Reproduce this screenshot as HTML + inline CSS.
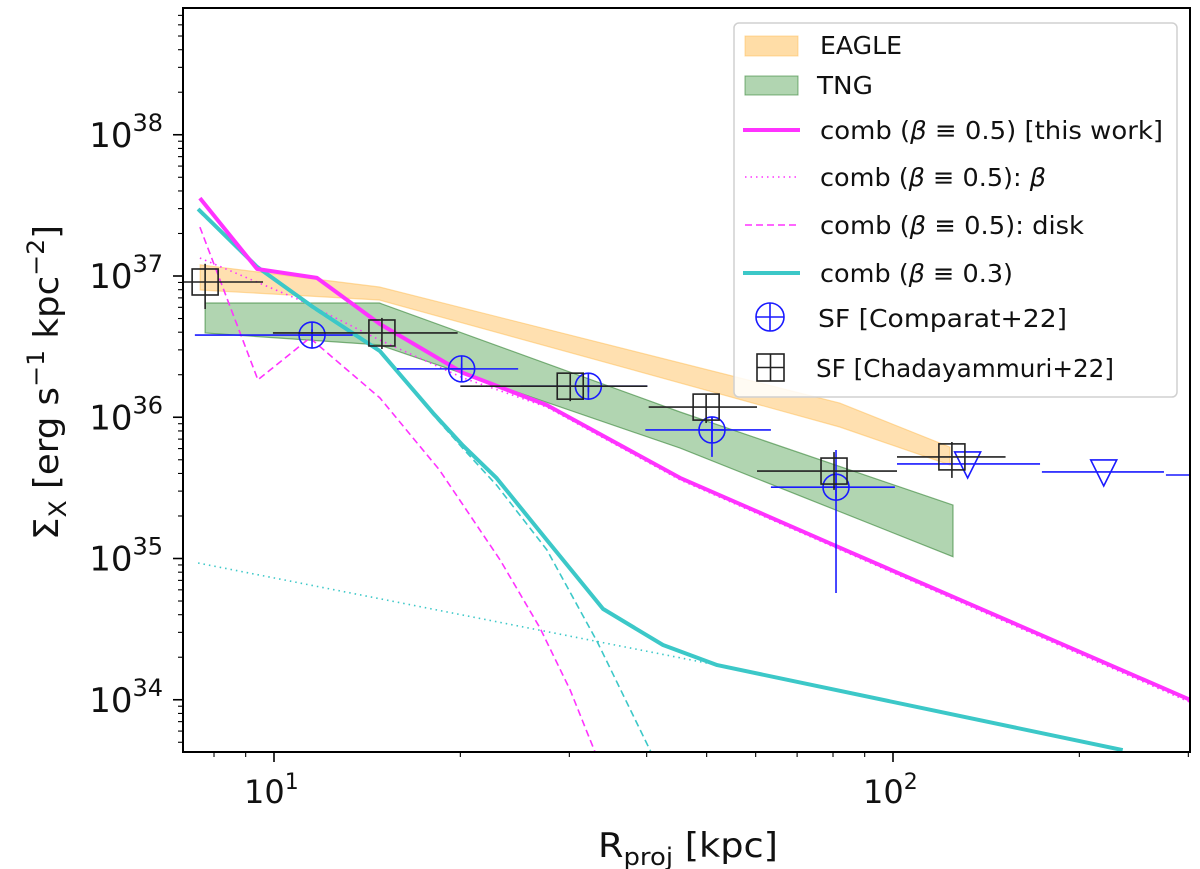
<!DOCTYPE html>
<html><head><meta charset="utf-8"><style>
html,body{margin:0;padding:0;background:#fff;}
svg{display:block;font-family:"DejaVu Sans","Liberation Sans",sans-serif;}
</style></head><body>
<svg id="chart" width="1200" height="869" viewBox="0 0 1200 869">
<defs><clipPath id="clip"><rect x="183" y="8" width="1007" height="744"/></clipPath></defs>
<g id="plot" clip-path="url(#clip)"></g>
<g id="axes"></g>
<g id="legend"></g>
</svg>
<script>
// ---- data ----
const eagleR = [7.6, 14.8, 82.0, 123.6];
const eagleHi = [1.2e37, 8.36e36, 1.26e36, 6.15e35];
const eagleLo = [7.96e36, 6.76e36, 8.53e35, 4.59e35];
const tngR = [7.74, 14.8, 45.3, 125];
const tngHi = [6.44e36, 6.44e36, 1.09e36, 2.39e35];
const tngLo = [3.95e36, 3.25e36, 6.05e35, 1.03e35];
const combR = [7.59, 9.39, 11.73, 14.83, 20.2, 27.6, 45.3, 81.8, 302];
const combY = [3.56e37, 1.12e37, 9.7e36, 4.57e36, 2.06e36, 1.22e36, 3.72e35, 1.2e35, 1.0e34];
const betaR = [7.59, 11.0, 14.83, 20.2, 27.6, 45.3, 302];
const betaY = [1.34e37, 6.76e36, 3.52e36, 1.9e36, 1.18e36, 3.6e35, 9.6e33];
const diskR = [7.59, 9.42, 11.43, 14.83, 18.5, 23.2, 26.9, 30.1, 33.0];
const diskY = [2.22e37, 1.84e36, 3.64e36, 1.37e36, 4.24e35, 9.75e34, 3.22e34, 1.17e34, 4.27e33];
const c3R = [7.54, 9.39, 11.56, 14.83, 18.07, 20.2, 22.9, 27.6, 34.0, 42.5, 52.0, 235];
const c3Y = [2.98e37, 1.16e37, 6.03e36, 2.94e36, 1.07e36, 6.3e35, 3.7e35, 1.35e35, 4.4e34, 2.44e34, 1.76e34, 4.4e33];
const c3betaR = [7.54, 52.0];
const c3betaY = [9.3e34, 1.76e34];
const c3diskR = [7.54, 9.39, 11.56, 14.83, 18.07, 20.2, 22.9, 27.6, 33.3, 40.6];
const c3diskY = [2.9e37, 1.15e37, 5.9e36, 2.9e36, 1.04e36, 6.0e35, 3.3e35, 1.15e35, 2.56e34, 4.3e33];
const compR = [11.52, 20.1, 32.2, 51.0, 80.9];
const compY = [3.82e36, 2.2e36, 1.66e36, 8.13e35, 3.2e35];
const compXlo = [7.45, 15.8, 25.0, 39.8, 63.5];
const compXhi = [13.4, 24.8, 40.1, 63.5, 100.7];
const compYlo = [3.5e36, 2.0e36, 1.5e36, 5.24e35, 5.7e34];
const compYhi = [4.2e36, 2.4e36, 1.85e36, 1.0e36, 5.86e35];
const limR = [132, 219, 360];
const limY = [4.67e35, 4.1e35, 3.9e35];
const limXlo = [101.5, 174, 276];
const limXhi = [172.8, 274, 450];
const chadR = [7.74, 14.94, 30.1, 49.9, 80.3, 124.5];
const chadY = [9.07e36, 3.95e36, 1.66e36, 1.18e36, 4.16e35, 5.24e35];
const chadXlo = [6.9, 9.96, 20.0, 40.3, 60.3, 101.5];
const chadXhi = [9.6, 19.8, 40.1, 60.3, 101.5, 152];
const chadYlo = [5.84e36, 3.04e36, 1.3e36, 9.1e35, 3.06e35, 3.72e35];
const chadYhi = [1.22e37, 5.05e36, 2.06e36, 1.44e36, 5.67e35, 6.68e35];
const xTickExp = [1, 2];
const yTickExp = [34, 35, 36, 37, 38];

// ---- scales ----
const X = r => 274 + (Math.log10(r) - 1) * 619;
const Y = v => 276 - (Math.log10(v) - 37) * 141.25;
const NS = 'http://www.w3.org/2000/svg';
function mk(tag, parent, attrs) {
  const e = document.createElementNS(NS, tag);
  for (const k in attrs) e.setAttribute(k, attrs[k]);
  parent.appendChild(e);
  return e;
}
const plot = document.getElementById('plot');
const axes = document.getElementById('axes');
const leg = document.getElementById('legend');
const pts = (rs, ys) => rs.map((r, i) => X(r).toFixed(1) + ',' + Y(ys[i]).toFixed(1)).join(' ');

// bands
function band(rs, hi, lo, fill, stroke, name) {
  const p = pts(rs, hi) + ' ' + pts(rs.slice().reverse(), lo.slice().reverse());
  const e = mk('polygon', plot, {points: p, fill: fill, stroke: stroke, 'stroke-width': 1.2});
  
  
}
band(eagleR, eagleHi, eagleLo, 'rgba(255,187,80,0.45)', 'rgba(255,187,80,0.5)', 'eagle-band');
band(tngR, tngHi, tngLo, 'rgba(60,150,60,0.4)', 'rgba(50,130,50,0.6)', 'tng-band');

function line(rs, ys, color, w, dash, name) {
  const e = mk('polyline', plot, {points: pts(rs, ys), fill: 'none', stroke: color, 'stroke-width': w, 'stroke-dasharray': dash, 'stroke-linejoin': 'round'});
  
  
}
line(betaR, betaY, '#ff33ff', 1.6, '1.5,4', 'comb-05-beta-line');
line(diskR, diskY, '#ff33ff', 1.6, '7,4', 'comb-05-disk-line');
line(c3betaR, c3betaY, '#3cc8c8', 1.6, '1.5,4', 'comb-03-beta-line');
line(c3diskR, c3diskY, '#3cc8c8', 1.6, '7,4', 'comb-03-disk-line');
line(c3R, c3Y, '#3cc8c8', 4, 'none', 'comb-03-line');
line(combR, combY, '#ff33ff', 4, 'none', 'comb-05-line');

// Comparat points
compR.forEach((r, i) => {
  const g = mk('g', plot, {});
  
  
  const x = X(r), y = Y(compY[i]);
  mk('line', g, {x1: X(compXlo[i]), x2: X(compXhi[i]), y1: y, y2: y, stroke: '#1a1aff', 'stroke-width': 1.6});
  mk('line', g, {x1: x, x2: x, y1: Y(compYlo[i]), y2: Y(compYhi[i]), stroke: '#1a1aff', 'stroke-width': 1.6});
  mk('ellipse', g, {cx: x, cy: y, rx: 13, ry: 13, fill: 'none', stroke: '#1a1aff', 'stroke-width': 1.6});
  mk('line', g, {x1: x, x2: x, y1: y - 13, y2: y + 13, stroke: '#1a1aff', 'stroke-width': 1.6});
  mk('line', g, {x1: x - 13, x2: x + 13, y1: y, y2: y, stroke: '#1a1aff', 'stroke-width': 1.6});
});
limR.forEach((r, i) => {
  const g = mk('g', plot, {});
  
  
  const x = X(r), y = Y(limY[i]);
  mk('line', g, {x1: X(limXlo[i]), x2: X(limXhi[i]), y1: y, y2: y, stroke: '#1a1aff', 'stroke-width': 1.6});
  mk('polygon', g, {points: `${x-13},${y-12} ${x+13},${y-12} ${x},${y+14}`, fill: 'none', stroke: '#1a1aff', 'stroke-width': 1.6});
});
// Chadayammuri points
chadR.forEach((r, i) => {
  const g = mk('g', plot, {});
  
  
  const x = X(r), y = Y(chadY[i]);
  mk('line', g, {x1: X(chadXlo[i]), x2: X(chadXhi[i]), y1: y, y2: y, stroke: '#222', 'stroke-width': 1.6});
  mk('line', g, {x1: x, x2: x, y1: Y(chadYlo[i]), y2: Y(chadYhi[i]), stroke: '#222', 'stroke-width': 1.6});
  mk('rect', g, {x: x - 13, y: y - 13, width: 26, height: 26, fill: 'none', stroke: '#222', 'stroke-width': 1.6});
});

// axes frame
mk('rect', axes, {x: 183, y: 8, width: 1007, height: 744, fill: 'none', stroke: '#000', 'stroke-width': 2});
// x ticks
for (let e = 0; e <= 2; e++) for (let m = 1; m <= 9; m++) {
  const r = m * Math.pow(10, e);
  const x = X(r);
  if (x < 183 || x > 1190) continue;
  const len = m === 1 ? 10 : 5;
  mk('line', axes, {x1: x, x2: x, y1: 752, y2: 752 + len, stroke: '#000', 'stroke-width': m === 1 ? 1.6 : 1.1});
}
xTickExp.forEach(e => {
  const x = X(Math.pow(10, e));
  const t = mk('text', axes, {x: x - 30, y: 803, 'font-size': 32, fill: '#111'});
  
  
  t.innerHTML = '10<tspan dy="-14" font-size="22">' + e + '</tspan>';
});
// y ticks
for (let e = 33; e <= 38; e++) for (let m = 1; m <= 9; m++) {
  const v = m * Math.pow(10, e);
  const y = Y(v);
  if (y < 8 || y > 752) continue;
  const len = m === 1 ? 10 : 5;
  mk('line', axes, {x1: 183 - len, x2: 183, y1: y, y2: y, stroke: '#000', 'stroke-width': m === 1 ? 1.6 : 1.1});
}
yTickExp.forEach(e => {
  const y = Y(Math.pow(10, e));
  const t = mk('text', axes, {x: 163, y: y + 12, 'font-size': 34, fill: '#111', 'text-anchor': 'end'});
  
  
  t.innerHTML = '10<tspan dy="-16" font-size="24">' + e + '</tspan>';
});
</script>
<g></g>
<script>
const svg = document.getElementById('chart');
function tx(parent, attrs, html, name) {
  const e = document.createElementNS('http://www.w3.org/2000/svg', 'text');
  for (const k in attrs) e.setAttribute(k, attrs[k]);
  e.innerHTML = html;
  
  
  parent.appendChild(e);
  return e;
}
const ax = document.getElementById('axes');
tx(ax, {x: 598, y: 857, 'font-size': 34, fill: '#111', textLength: 180, lengthAdjust: 'spacingAndGlyphs'},
  'R<tspan dy="8" font-size="24">proj</tspan><tspan dy="-8"> [kpc]</tspan>', 'x-axis-title');
tx(ax, {x: 0, y: 0, 'font-size': 34, fill: '#111', transform: 'translate(58,540) rotate(-90)', textLength: 315, lengthAdjust: 'spacingAndGlyphs'},
  'Σ<tspan dy="8" font-size="24">X</tspan><tspan dy="-8"> [erg s</tspan><tspan dy="-14" font-size="24">−1</tspan><tspan dy="14"> kpc</tspan><tspan dy="-14" font-size="24">−2</tspan><tspan dy="14">]</tspan>', 'y-axis-title');

// legend
const lg = document.getElementById('legend');
const NS2 = 'http://www.w3.org/2000/svg';
function el(tag, attrs) { const e = document.createElementNS(NS2, tag); for (const k in attrs) e.setAttribute(k, attrs[k]); lg.appendChild(e); return e; }
el('rect', {x: 734, y: 23, width: 443, height: 374, rx: 5, fill: 'rgba(255,255,255,0.85)', stroke: '#d0d0d0', 'stroke-width': 1.5});
el('rect', {x: 745, y: 36, width: 53, height: 20, fill: 'rgba(255,187,80,0.5)', stroke: 'rgba(255,187,80,0.5)'});
el('rect', {x: 745, y: 76, width: 53, height: 19, fill: 'rgba(60,150,60,0.4)', stroke: 'rgba(50,130,50,0.6)'});
el('line', {x1: 743, x2: 800, y1: 130, y2: 130, stroke: '#ff33ff', 'stroke-width': 4});
el('line', {x1: 745, x2: 800, y1: 177, y2: 177, stroke: '#ff33ff', 'stroke-width': 1.6, 'stroke-dasharray': '1.5,4'});
el('line', {x1: 745, x2: 800, y1: 225, y2: 225, stroke: '#ff33ff', 'stroke-width': 1.6, 'stroke-dasharray': '7,4'});
el('line', {x1: 743, x2: 800, y1: 273, y2: 273, stroke: '#3cc8c8', 'stroke-width': 4});
el('ellipse', {cx: 770, cy: 317, rx: 14, ry: 14, fill: 'none', stroke: '#1a1aff', 'stroke-width': 1.6});
el('line', {x1: 770, x2: 770, y1: 303, y2: 331, stroke: '#1a1aff', 'stroke-width': 1.6});
el('line', {x1: 756, x2: 784, y1: 317, y2: 317, stroke: '#1a1aff', 'stroke-width': 1.6});
el('rect', {x: 757, y: 354, width: 27, height: 27, fill: 'none', stroke: '#222', 'stroke-width': 1.6});
el('line', {x1: 770.5, x2: 770.5, y1: 354, y2: 381, stroke: '#222', 'stroke-width': 1.6});
el('line', {x1: 757, x2: 784, y1: 367.5, y2: 367.5, stroke: '#222', 'stroke-width': 1.6});
const labels = [
  [820, 54, 'EAGLE', 82, 'legend-eagle'],
  [817, 94, 'TNG', 56, 'legend-tng'],
  [820, 139, 'comb (<tspan font-style="italic">β</tspan> ≡ 0.5) [this work]', 343, 'legend-comb-05'],
  [820, 186, 'comb (<tspan font-style="italic">β</tspan> ≡ 0.5): <tspan font-style="italic">β</tspan>', 226, 'legend-comb-05-beta'],
  [820, 234, 'comb (<tspan font-style="italic">β</tspan> ≡ 0.5): disk', 264, 'legend-comb-05-disk'],
  [820, 282, 'comb (<tspan font-style="italic">β</tspan> ≡ 0.3)', 193, 'legend-comb-03'],
  [818, 327, 'SF [Comparat+22]', 249, 'legend-comparat'],
  [816, 377, 'SF [Chadayammuri+22]', 298, 'legend-chadayammuri']
];
labels.forEach(l => {
  tx(lg, {x: l[0], y: l[1], 'font-size': 25, fill: '#111', textLength: l[3], lengthAdjust: 'spacingAndGlyphs'}, l[2], l[4]);
});
</script>
</body></html>
